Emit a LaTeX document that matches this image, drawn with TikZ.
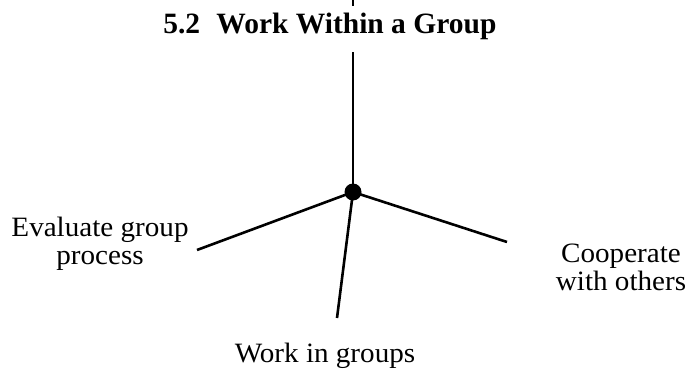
\documentclass[tikz,border=0pt]{standalone}
\usepackage{fontspec}
\setmainfont{Liberation Serif}
\newfontfamily\widefont[FakeStretch=1.04]{Liberation Serif}
\usetikzlibrary{positioning}

\begin{document}
\begin{tikzpicture}[
  x=1pt, y=-1pt,
  hub/.style={circle, fill, inner sep=0pt, minimum size=17pt},
  leaf/.style={align=center, inner sep=0pt, anchor=base,
               font=\widefont\fontsize{28}{27.5}\selectfont},
  title/.style={inner sep=0pt, anchor=base west,
                font=\bfseries\fontsize{29.5}{30}\selectfont},
  line width=2.6pt
]
\useasboundingbox (0,0) rectangle (689,372);

\node[hub] (hub) at (353,192) {};
\node[title] (head) at (162,33) {5.2\hspace{0.55em}Work Within a Group};

\coordinate (top) at (353,52);
\coordinate (stub a) at (353,0);
\coordinate (stub b) at (353,6);
\coordinate (eval) at (197,250);
\coordinate (coop) at (507,242);
\coordinate (work) at (337,318);

\foreach \e in {top, eval, coop, work}
  \draw (hub.center) -- (\e);
\draw (stub a) -- (stub b);

% anchor=base sits on the last line
\node[leaf] (evaltext) at (100,264) {Evaluate group\\process};
\node[leaf] (cooptext) at (621,290) {Cooperate\\with others};
\node[leaf] (worktext) at (325,362) {Work in groups};

\end{tikzpicture}
\end{document}
